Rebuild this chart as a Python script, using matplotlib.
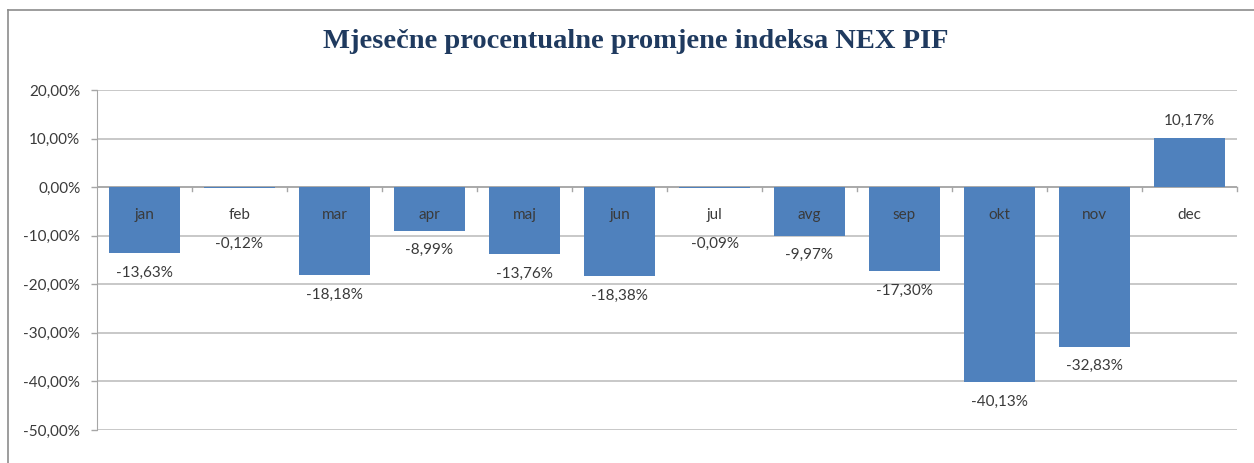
import matplotlib
matplotlib.use("Agg")
import matplotlib.pyplot as plt
from matplotlib.lines import Line2D
import numpy as np

months = ["jan", "feb", "mar", "apr", "maj", "jun", "jul", "avg", "sep", "okt", "nov", "dec"]
values = [-13.63, -0.12, -18.18, -8.99, -13.76, -18.38, -0.09, -9.97, -17.30, -40.13, -32.83, 10.17]
yticks = [20, 10, 0, -10, -20, -30, -40, -50]
title = "Mjesečne procentualne promjene indeksa NEX PIF"

def pct(v):
    return f"{v:.2f}".replace(".", ",") + "%"

W, H = 1254, 463
fig = plt.figure(figsize=(W / 100, H / 100), dpi=100)
ax = fig.add_axes([97 / W, 1 - 430 / H, (1237 - 97) / W, (430 - 90) / H])

TXT = "#3A3A3A"
FS = 11

x = np.arange(len(months))
ax.bar(x, values, width=0.75, color="#4F81BD", zorder=3)
ax.set_xlim(-0.5, len(months) - 0.5)
ax.set_ylim(-50, 20)
ax.set_yticks(yticks)
ax.set_yticklabels([pct(v) for v in yticks], fontsize=FS, color=TXT, family="Lato")
ax.tick_params(axis="y", length=4, width=1, color="#A6A6A6", pad=8)
ax.set_xticks([])
ax.grid(axis="y", color="#BFBFBF", linewidth=1.2, zorder=0)
for s in ["top", "right", "bottom"]:
    ax.spines[s].set_visible(False)
ax.spines["left"].set_color("#A6A6A6")

# zero axis line and category boundary ticks
ax.axhline(0, color="#A6A6A6", linewidth=1.2, zorder=2)
for b in np.arange(0.5, len(months), 1.0):
    ax.plot([b, b], [0, -0.8], color="#A6A6A6", linewidth=1, zorder=2, clip_on=False)

# category labels next to axis
for xi, m in zip(x, months):
    ax.text(xi, -5.7, m, ha="center", va="center", fontsize=FS, color=TXT, family="Lato", zorder=4)

# data labels
for xi, v in zip(x, values):
    if v >= 0:
        ax.text(xi, v + 3.5, pct(v), ha="center", va="center", fontsize=FS, color=TXT, family="Lato", zorder=4)
    else:
        yv = min(v, -7.6)
        ax.text(xi, yv - 4.0, pct(v), ha="center", va="center", fontsize=FS, color=TXT, family="Lato", zorder=4)

fig.text(636 / W, 1 - 42 / H, title, ha="center", va="center", fontsize=20.5, fontweight="bold",
         color="#1F3A5F", family="Liberation Serif")

# outer chart border (top and left edges visible)
fig.add_artist(Line2D([8 / W, 1.0], [1 - 10 / H, 1 - 10 / H], transform=fig.transFigure, color="#8C8C8C", linewidth=1.2))
fig.add_artist(Line2D([8 / W, 8 / W], [0, 1 - 10 / H], transform=fig.transFigure, color="#8C8C8C", linewidth=1.2))

fig.savefig("out.png", dpi=100)
